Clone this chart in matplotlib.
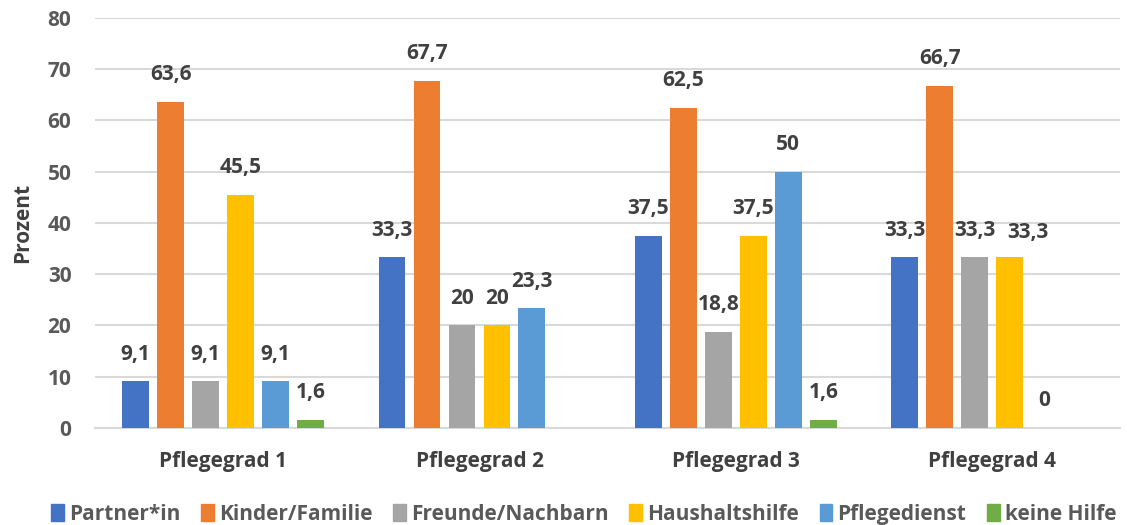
import numpy as np
import matplotlib.pyplot as plt
from matplotlib.patches import Patch

plt.rcParams["font.family"] = ["Open Sans", "DejaVu Sans"]

# ── Daten ────────────────────────────────────────────────
gruppen = ["Pflegegrad 1", "Pflegegrad 2", "Pflegegrad 3", "Pflegegrad 4"]
serien = ["Partner*in", "Kinder/Familie", "Freunde/Nachbarn",
          "Haushaltshilfe", "Pflegedienst", "keine Hilfe"]
partner = [9.1, 33.3, 37.5, 33.3]
kinder = [63.6, 67.7, 62.5, 66.7]
freunde = [9.1, 20, 18.8, 33.3]
haushalt = [45.5, 20, 37.5, 33.3]
pflegedienst = [9.1, 23.3, 50, 0]
keine_hilfe = [1.6, np.nan, 1.6, np.nan]
werte = [partner, kinder, freunde, haushalt, pflegedienst, keine_hilfe]
farben = ["#4472C4", "#ED7D31", "#A5A5A5", "#FFC000", "#5B9BD5", "#70AD47"]

fig = plt.figure(figsize=(11.27, 5.25), dpi=100)
ax = fig.add_axes([0.0843, 0.185, 0.9097, 0.781])

x = np.arange(len(gruppen))
slot = 0.1365
breite = 0.105
for i, (name, vals, col) in enumerate(zip(serien, werte, farben)):
    pos = x + (i - 2.5) * slot
    vals = np.array(vals, dtype=float)
    ax.bar(pos, vals, breite, color=col, zorder=3, label=name)
    for j, (p, v) in enumerate(zip(pos, vals)):
        if np.isnan(v):
            continue
        txt = f"{v:g}".replace(".", ",")
        dx, dy = 0, 12
        # wie im Original: Beschriftung etwas verschoben, wenn sie kollidiert
        if name == "Haushaltshilfe" and j == 3:
            dx, dy = 13, 10
        ax.annotate(txt, (p, v), xytext=(dx, dy), textcoords="offset points",
                    ha="center", va="bottom", fontsize=15, fontweight="bold",
                    color="#404040")

ax.set_xlim(-0.5, len(gruppen) - 0.5)
ax.set_ylim(0, 80)
ax.set_yticks(range(0, 81, 10))
ax.set_xticks(x)
ax.set_xticklabels(gruppen)
ax.tick_params(axis="both", length=0, labelsize=15, labelcolor="#595959")
ax.tick_params(axis="x", pad=17, labelcolor="#404040")
ax.tick_params(axis="y", pad=17)
for lab in ax.get_xticklabels() + ax.get_yticklabels():
    lab.set_fontweight("bold")
ax.yaxis.grid(True, color="#D9D9D9", linewidth=1.5, zorder=0)
for s in ["top", "right", "left"]:
    ax.spines[s].set_visible(False)
ax.spines["bottom"].set_color("#D9D9D9")
ax.spines["bottom"].set_linewidth(1.5)
ax.set_ylabel("Prozent", fontsize=15, fontweight="bold", color="#404040")
ax.yaxis.set_label_coords(-0.060, 0.5)

handles = [Patch(color=c) for c in farben]
fig.legend(handles, serien, loc="lower center", bbox_to_anchor=(0.518, -0.035),
           ncol=6, frameon=False, handlelength=0.6, handleheight=0.9,
           handletextpad=0.25, columnspacing=1.0,
           prop={"size": 15, "weight": "bold"}, labelcolor="#595959")

fig.savefig("out.png", dpi=100, facecolor="white")
plt.close()
